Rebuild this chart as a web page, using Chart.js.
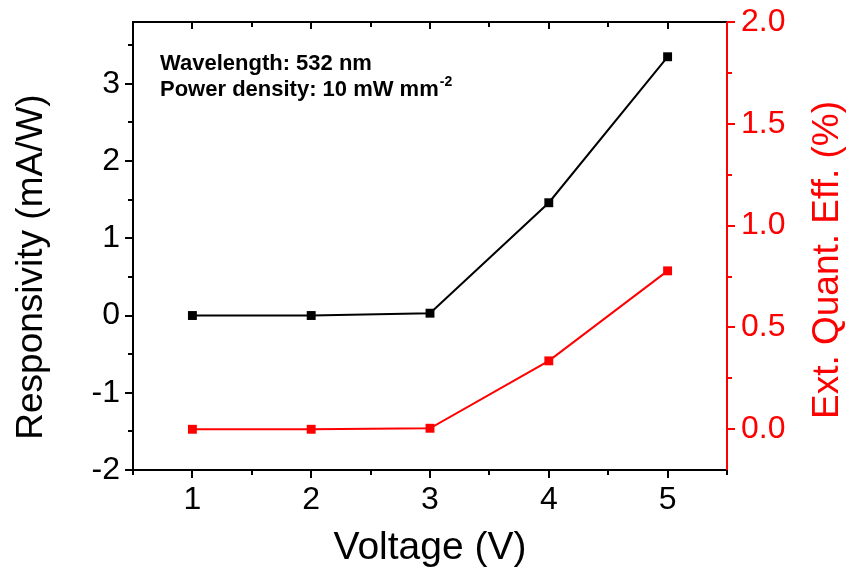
<!DOCTYPE html>
<html>
<head>
<meta charset="utf-8">
<script src="https://cdn.jsdelivr.net/npm/chart.js@4"></script>
<style>
  body { margin: 0; background: #fff; }
  #wrap { width: 857px; height: 578px; }
</style>
</head>
<body>
<div id="wrap"><canvas id="chart" width="857" height="578"></canvas></div>
<script>
const voltage = [1, 2, 3, 4, 5]
const responsivity = [0.0, 0.0, 0.03, 1.46, 3.35]
const extQuantEff = [0.0, 0.0, 0.005, 0.336, 0.778]

const xTicks = [1, 2, 3, 4, 5]
const leftTicks = [-2, -1, 0, 1, 2, 3]
const rightTicks = [0.0, 0.5, 1.0, 1.5, 2.0]

const FONT = '"Liberation Sans", Arial, sans-serif'
const RED = '#ff0000'

// frame, tick marks, titles and the note are drawn here
const framePlugin = {
  id: 'frame',
  afterDraw(chart) {
    const { ctx, chartArea: a, scales } = chart
    const xs = scales.x, yl = scales.y, yr = scales.y1
    ctx.save()
    ctx.lineWidth = 2
    ctx.lineCap = 'square'

    ctx.strokeStyle = '#000'
    ctx.beginPath()
    ctx.moveTo(a.right, a.top); ctx.lineTo(a.left, a.top)
    ctx.lineTo(a.left, a.bottom); ctx.lineTo(a.right, a.bottom)
    ctx.stroke()

    ctx.lineCap = 'butt'
    ctx.beginPath()
    for (let v = 0.5; v <= 5.5001; v += 0.5) {
      const px = Math.round(xs.getPixelForValue(v))
      const major = Number.isInteger(v)
      ctx.moveTo(px, a.bottom); ctx.lineTo(px, a.bottom + (major ? 8 : 5))
      ctx.moveTo(px, a.top); ctx.lineTo(px, a.top + (major ? 7 : 5))
    }
    for (let v = -2; v <= 3.5001; v += 0.5) {
      const py = Math.round(yl.getPixelForValue(v))
      ctx.moveTo(a.left, py); ctx.lineTo(a.left - (Number.isInteger(v) ? 8 : 5), py)
    }
    ctx.stroke()

    ctx.strokeStyle = RED
    ctx.beginPath()
    ctx.moveTo(a.right, a.top); ctx.lineTo(a.right, a.bottom)
    for (let v = 0; v <= 2.0001; v += 0.25) {
      const py = Math.round(yr.getPixelForValue(v))
      const major = Math.abs(v * 2 - Math.round(v * 2)) < 1e-6
      ctx.moveTo(a.right, py); ctx.lineTo(a.right + (major ? 8 : 5), py)
    }
    ctx.stroke()

    // axis titles
    ctx.textAlign = 'center'
    ctx.textBaseline = 'middle'
    ctx.fillStyle = '#000'
    ctx.font = '39px ' + FONT
    ctx.fillText('Voltage (V)', (a.left + a.right) / 2, 548)

    ctx.font = '37px ' + FONT
    ctx.save()
    ctx.translate(32, 267)
    ctx.rotate(-Math.PI / 2)
    ctx.fillText('Responsivity (mA/W)', 0, 0)
    ctx.restore()

    ctx.save()
    ctx.fillStyle = RED
    ctx.translate(828, 260)
    ctx.rotate(-Math.PI / 2)
    ctx.fillText('Ext. Quant. Eff. (%)', 0, 0)
    ctx.restore()

    // note
    ctx.textAlign = 'left'
    ctx.textBaseline = 'alphabetic'
    ctx.font = 'bold 22px ' + FONT
    ctx.fillText('Wavelength: 532 nm', 160, 70)
    const line2 = 'Power density: 10 mW mm'
    ctx.fillText(line2, 160, 96)
    const w = ctx.measureText(line2).width
    ctx.font = 'bold 14px ' + FONT
    ctx.fillText('-2', 160 + w + 1, 86)
    ctx.restore()
  }
}

const noPadV = s => { s.paddingTop = 0; s.paddingBottom = 0 }

new Chart(document.getElementById('chart').getContext('2d'), {
  type: 'line',
  data: {
    datasets: [
      {
        label: 'Responsivity',
        data: voltage.map((v, i) => ({ x: v, y: responsivity[i] })),
        yAxisID: 'y',
        borderColor: '#000',
        backgroundColor: '#000',
        borderWidth: 2,
        pointStyle: 'rect',
        pointRadius: 6.3,
        pointBorderWidth: 0,
      },
      {
        label: 'Ext. Quant. Eff.',
        data: voltage.map((v, i) => ({ x: v, y: extQuantEff[i] })),
        yAxisID: 'y1',
        borderColor: RED,
        backgroundColor: RED,
        borderWidth: 2,
        pointStyle: 'rect',
        pointRadius: 6.3,
        pointBorderWidth: 0,
      }
    ]
  },
  options: {
    responsive: false,
    animation: false,
    layout: { padding: { top: 22, left: 0, right: 0, bottom: 0 } },
    scales: {
      x: {
        type: 'linear',
        min: 0.5,
        max: 5.5,
        afterFit: s => { s.height = 108; s.paddingLeft = 0; s.paddingRight = 0 },
        afterBuildTicks: s => { s.ticks = xTicks.map(v => ({ value: v })) },
        grid: { display: false, drawTicks: false },
        border: { display: false },
        ticks: { color: '#000', padding: 11, font: { family: FONT, size: 32 } }
      },
      y: {
        position: 'left',
        min: -2,
        max: 3.8,
        afterFit: s => { s.width = 133; noPadV(s) },
        afterBuildTicks: s => { s.ticks = leftTicks.map(v => ({ value: v })) },
        grid: { display: false, drawTicks: false },
        border: { display: false },
        ticks: { color: '#000', padding: 13, font: { family: FONT, size: 32 } }
      },
      y1: {
        position: 'right',
        min: -0.2,
        max: 2.0,
        afterFit: s => { s.width = 130; noPadV(s) },
        afterBuildTicks: s => { s.ticks = rightTicks.map(v => ({ value: v })) },
        grid: { display: false, drawTicks: false },
        border: { display: false },
        ticks: {
          color: RED, padding: 14, font: { family: FONT, size: 32 },
          callback: v => v.toFixed(1)
        }
      }
    },
    plugins: {
      legend: { display: false },
      tooltip: { enabled: false }
    }
  },
  plugins: [framePlugin]
})
</script>
</body>
</html>
